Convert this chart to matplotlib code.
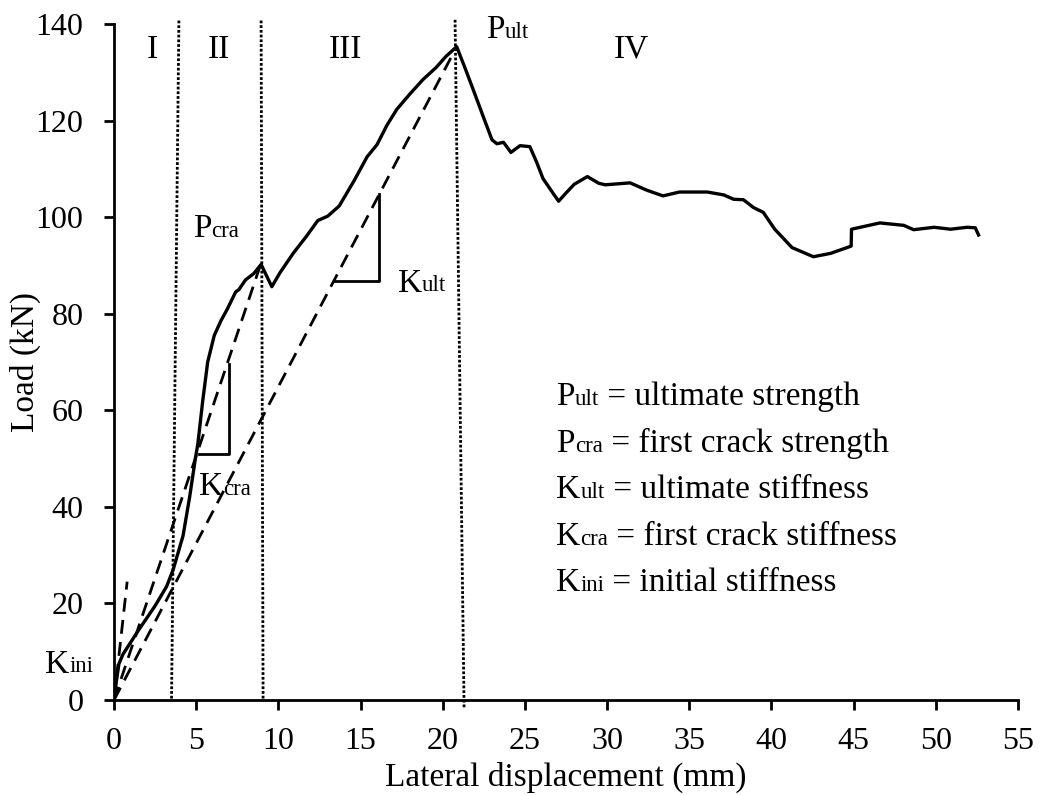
import matplotlib
matplotlib.use("Agg")
import matplotlib.pyplot as plt

plt.rcParams['font.family'] = ['Liberation Serif', 'DejaVu Serif']

# load-displacement curve
disp = [0, 0.15, 0.3, 0.55, 1.5, 2.5, 3.2, 3.6, 4.2, 4.6, 4.95, 5.1, 5.4, 5.7,
        6.1, 6.5, 6.9, 7.4, 7.6, 8.0, 8.5, 8.95, 9.6, 10.1, 10.9, 11.7, 12.4,
        13.0, 13.7, 14.6, 15.4, 16.0, 16.6, 17.2, 18.0, 18.8, 19.6, 20.2, 20.85,
        21.4, 21.9, 22.5, 23.0, 23.3, 23.7, 24.15, 24.7, 25.3, 25.7, 26.1, 26.6,
        27.05, 27.5, 28.0, 28.8, 29.5, 29.9, 31.4, 32.4, 33.4, 34.4, 36.1, 37.1,
        37.7, 38.3, 38.9, 39.5, 40.2, 41.25, 42.55, 43.6, 44.85, 44.87, 46.6,
        48.05, 48.65, 49.9, 50.9, 51.9, 52.4, 52.6]
load = [0, 4, 7.5, 9.5, 14.5, 19.5, 23.5, 27, 34, 42, 50, 53, 62, 70,
        75.5, 78.5, 81, 84.5, 85, 87, 88.3, 90.2, 85.6, 88.5, 92.5, 96, 99.3,
        100.2, 102.3, 107.5, 112.5, 115, 119, 122.3, 125.5, 128.5, 131, 133.3, 135.3,
        130.5, 126, 120.5, 116, 115.2, 115.5, 113.4, 114.8, 114.6, 111.5, 108, 105.5,
        103.3, 105, 106.8, 108.4, 107, 106.7, 107.1, 105.6, 104.4, 105.2, 105.2, 104.6,
        103.7, 103.6, 102.0, 101.0, 97.5, 93.7, 91.8, 92.5, 94.0, 97.5, 98.8,
        98.3, 97.4, 97.9, 97.5, 97.9, 97.8, 96.3]

# stiffness lines (end points)
k_ini_x = [0, 0.8]
k_ini_y = [0, 24.5]
k_cra_x = [0, 8.9]
k_cra_y = [0, 90.0]
k_ult_x = [0, 20.85]
k_ult_y = [0, 135.3]

# slope triangles
tri_cra_x = [5.15, 7.0, 7.0]
tri_cra_y = [51.0, 51.0, 69.5]
tri_ult_x = [13.4, 16.14, 16.14]
tri_ult_y = [86.8, 86.8, 104.8]

# stage boundaries (slightly slanted in the original)
bounds_bottom = [3.5, 9.07, 21.3]
bounds_top = [3.95, 8.95, 20.75]
bounds_y = [0.3, 141.0]
bounds_y3 = [-1.5, 141.0]

stages = ['I', 'II', 'III', 'IV']
stage_x = [2.33, 6.39, 14.1, 31.5]
stage_y = 133.0

fs = 24
fs_tick = 23
fs_small = 16.5

fig = plt.figure(figsize=(10.4, 7.95), dpi=100)
ax = fig.add_axes([114 / 1040, 95 / 795, 904 / 1040, 676 / 795])

ax.plot(disp, load, color='black', linewidth=2.4, solid_joinstyle='round')

dash = (0, (5, 3))
ax.plot(k_ini_x, k_ini_y, color='black', linewidth=2.0, linestyle=dash)
ax.plot(k_cra_x, k_cra_y, color='black', linewidth=2.0, linestyle=dash)
ax.plot(k_ult_x, k_ult_y, color='black', linewidth=2.0, linestyle=dash)

ax.plot(tri_cra_x, tri_cra_y, color='black', linewidth=2.0)
ax.plot(tri_ult_x, tri_ult_y, color='black', linewidth=2.0)

for i in range(3):
    ys = bounds_y3 if i == 2 else bounds_y
    ax.plot([bounds_bottom[i], bounds_top[i]], ys, color='black', linewidth=2.0,
            linestyle=(0, (1, 0.7)), clip_on=False)

for s, x in zip(stages, stage_x):
    ax.text(x, stage_y, s, fontsize=fs, ha='center', va='baseline')


def sub_label(x, y, big, small, rest=''):
    # big letter + smaller letters on the same baseline
    d = 0.216 * (fs - fs_small)
    t = ax.text(x, y, big, fontsize=fs, ha='left', va='baseline')
    s = ax.annotate(small, xy=(1, 0), xycoords=t, xytext=(0, d),
                    textcoords='offset points', fontsize=fs_small,
                    ha='left', va='bottom')
    if rest:
        ax.annotate(rest, xy=(1, 0), xycoords=s, xytext=(0, -d),
                    textcoords='offset points', fontsize=fs,
                    ha='left', va='bottom')


sub_label(22.65, 137.0, 'P', 'ult')
sub_label(4.8, 95.9, 'P', 'cra')
sub_label(17.27, 84.6, 'K', 'ult')
sub_label(5.17, 42.4, 'K', 'cra')
sub_label(-4.2, 5.65, 'K', 'ini')

# definitions block
defs = [('P', 'ult', ' = ultimate strength'),
        ('P', 'cra', ' = first crack strength'),
        ('K', 'ult', ' = ultimate stiffness'),
        ('K', 'cra', ' = first crack stiffness'),
        ('K', 'ini', ' = initial stiffness')]
defs_y = [61.1, 51.4, 41.8, 32.1, 22.6]
for (b, s, r), y in zip(defs, defs_y):
    sub_label(26.9, y, b, s, r)

ax.set_xlim(0, 55)
ax.set_ylim(0, 140)
ax.set_xticks(range(0, 56, 5))
ax.set_yticks(range(0, 141, 20))

for side in ['top', 'right']:
    ax.spines[side].set_visible(False)
for side in ['left', 'bottom']:
    ax.spines[side].set_linewidth(2.0)

ax.tick_params(axis='x', direction='out', length=7.5, width=2.0, labelsize=fs_tick, pad=12)
ax.tick_params(axis='y', direction='out', length=7, width=2.0, labelsize=fs_tick, pad=15)

fig.text(25 / 1040, 1 - 362 / 795, 'Load (kN)', rotation=90, fontsize=fs,
         ha='center', va='center')
fig.text(566 / 1040, 1 - 777 / 795, 'Lateral displacement (mm)', fontsize=fs,
         ha='center', va='center')

fig.savefig('out.png', dpi=100)
